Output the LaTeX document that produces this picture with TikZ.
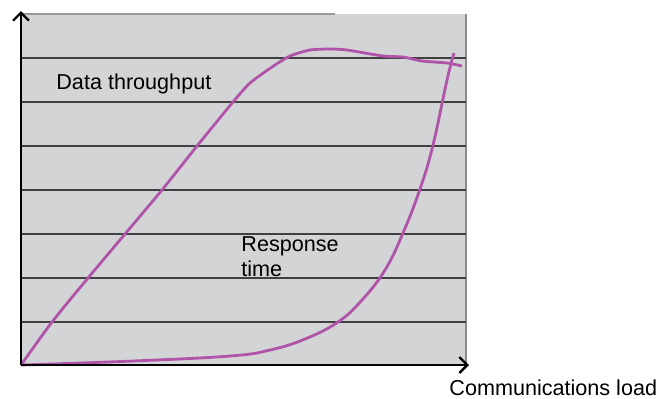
\documentclass[tikz,border=0pt]{standalone}
\usepackage{fontspec}
\setmainfont{Liberation Sans}
\usetikzlibrary{arrows.meta}

\definecolor{panel}{RGB}{211,212,214}
\definecolor{gridline}{RGB}{64,64,64}
\definecolor{curvecol}{RGB}{176,84,170}

\begin{document}
\begin{tikzpicture}[x=0.5pt,y=0.5pt,yscale=-1,xscale=1,
    gridrule/.style={draw=gridline,line width=0.8pt},
    curveline/.style={draw=curvecol,line width=1.4pt,line join=round},
    axisline/.style={line width=1.4pt,-{Straight Barb[length=4pt,width=8pt,line width=1.2pt]}},
    label/.style={anchor=base west,inner sep=0pt,font=\fontsize{10.8}{12.5}\selectfont}]
    \useasboundingbox (0,0) rectangle (656,398);

    %Shape: Rectangle
    \fill[panel] (21,14) rectangle (466,365);
    %Straight Lines
    \draw[draw=gray!80,line width=0.8pt] (21,14) -- (335,14);
    \draw[draw=gray!90,line width=0.6pt] (466,14) -- (466,365);
    %Grid lines
    \foreach \gy in {58,102,146,190,234,278,322}
        \draw[gridrule] (21,\gy) -- (466,\gy);

    %Curve Lines (throughput)
    \draw[curveline] plot[smooth,tension=0.4] coordinates {(21,365) (52,322) (88,278) (125,234) (162,190) (197,146) (233,102) (250,83) (272,67) (290,56) (310,50) (330,49) (347,50) (383,56) (403,57) (422,61) (447,63) (462,66)};
    %Curve Lines (response time)
    \draw[curveline] plot[smooth,tension=0.7] coordinates {(21,365) (133,361) (230,356) (270,350) (305,339) (338,322) (362,300) (385,270) (403,233) (420,189) (433,145) (447,80) (454,53)};

    %Axes
    \coordinate (origin) at (21,365);
    \coordinate (ytip) at (21,11);
    \coordinate (xtip) at (469,365);
    \draw[axisline] (origin) -- (ytip);
    \draw[axisline] (origin) -- (xtip);

    % Text Node
    \node[label] (thru) at (56,89) {Data throughput};
    % Text Node
    \node[label] (resp) at (241,251) {Response};
    % Text Node
    \node[label] (resptime) at (241,276) {time};
    % Text Node
    \node[label] (load) at (449,395) {Communications load};

\end{tikzpicture}
\end{document}
